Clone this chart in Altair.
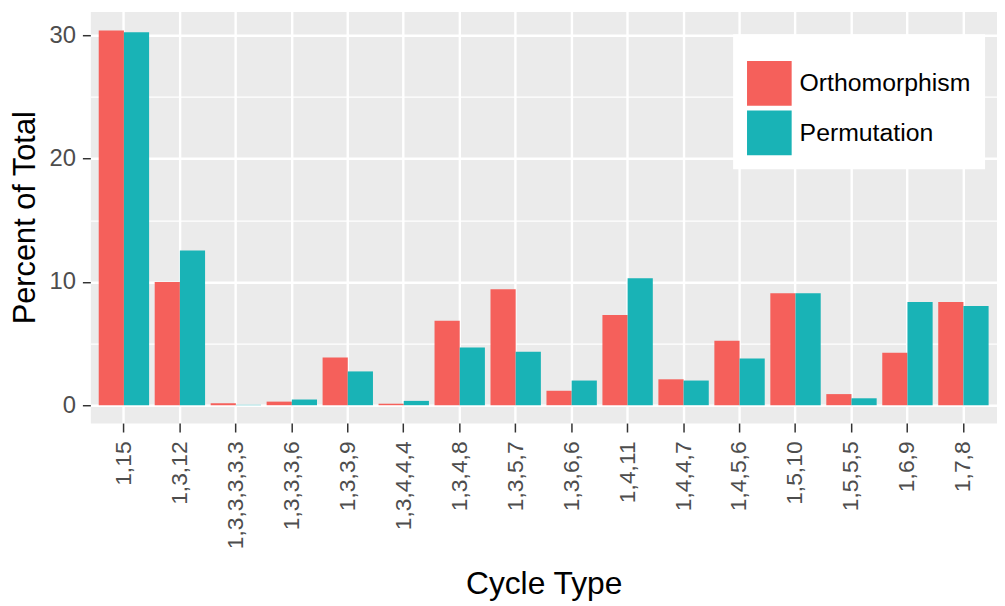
import altair as alt
import pandas as pd

cycle_types = ["1,15", "1,3,12", "1,3,3,3,3,3", "1,3,3,3,6", "1,3,3,9", "1,3,4,4,4",
               "1,3,4,8", "1,3,5,7", "1,3,6,6", "1,4,11", "1,4,4,7", "1,4,5,6",
               "1,5,10", "1,5,5,5", "1,6,9", "1,7,8"]
orthomorphism = [30.4, 10.0, 0.16, 0.29, 3.86, 0.12, 6.84, 9.41, 1.17, 7.32, 2.1, 5.23,
                 9.09, 0.9, 4.26, 8.37]
permutation = [30.25, 12.55, 0.03, 0.46, 2.74, 0.35, 4.67, 4.34, 2.0, 10.3, 2.0, 3.78,
               9.09, 0.56, 8.37, 8.05]
series = ["Orthomorphism", "Permutation"]
colors = ["#F5605B", "#19B3B6"]

rows = []
for c, o, p in zip(cycle_types, orthomorphism, permutation):
    rows.append({"cycle": c, "series": series[0], "value": o})
    rows.append({"cycle": c, "series": series[1], "value": p})
df = pd.DataFrame(rows)

FONT = "Liberation Sans"

chart = alt.Chart(df).mark_bar().encode(
    x=alt.X("cycle:N", sort=cycle_types, title="Cycle Type",
            scale=alt.Scale(paddingInner=0.1, paddingOuter=0.15),
            axis=alt.Axis(bandPosition=0.5, labelAngle=270, labelFontSize=23,
                          labelColor="#4D4D4D", labelFont=FONT,
                          tickSize=9, tickColor="#333333", tickWidth=1.5,
                          labelPadding=9, domain=False, grid=True,
                          gridColor="white", gridWidth=2.4,
                          titleFontSize=32, titleFont=FONT,
                          titleFontWeight="normal", titleColor="black",
                          titlePadding=20)),
    xOffset=alt.XOffset("series:N", sort=series),
    y=alt.Y("value:Q", title="Percent of Total",
            scale=alt.Scale(domain=[-1.45, 31.94], nice=False, zero=False),
            axis=alt.Axis(values=[0, 5, 10, 15, 20, 25, 30],
                          labelExpr="datum.value % 10 == 0 ? datum.label : ''",
                          labelFontSize=24, labelColor="#4D4D4D",
                          labelFont=FONT, labelPadding=7,
                          tickSize=8, tickWidth=1.5,
                          tickColor={"condition": {"test": "datum.value % 10 != 0", "value": "transparent"},
                                     "value": "#333333"},
                          domain=False, grid=True, gridColor="white",
                          gridWidth={"condition": {"test": "datum.value % 10 != 0", "value": 1.2},
                                     "value": 2.4},
                          titleFontSize=31, titleFont=FONT,
                          titleFontWeight="normal", titleColor="black",
                          titlePadding=8)),
    color=alt.Color("series:N", sort=series,
                    scale=alt.Scale(domain=series, range=colors),
                    legend=alt.Legend(title=" ", titleFontSize=8, titlePadding=5,
                                      orient="none", legendX=648, legendY=23,
                                      fillColor="white", padding=14,
                                      symbolType="square", symbolSize=2025,
                                      symbolStrokeWidth=0, symbolOpacity=1,
                                      labelFontSize=25, labelFont=FONT,
                                      labelColor="black", labelOffset=8,
                                      labelLimit=400, rowPadding=5)),
).properties(
    width=914, height=415,
    autosize=alt.AutoSizeParams(type="none"),
    padding={"left": 83, "top": 1, "right": 0, "bottom": 186},
).configure_view(fill="#EBEBEB", stroke="transparent")

chart.save("out.html", embed_options={"renderer": "svg", "actions": False})
